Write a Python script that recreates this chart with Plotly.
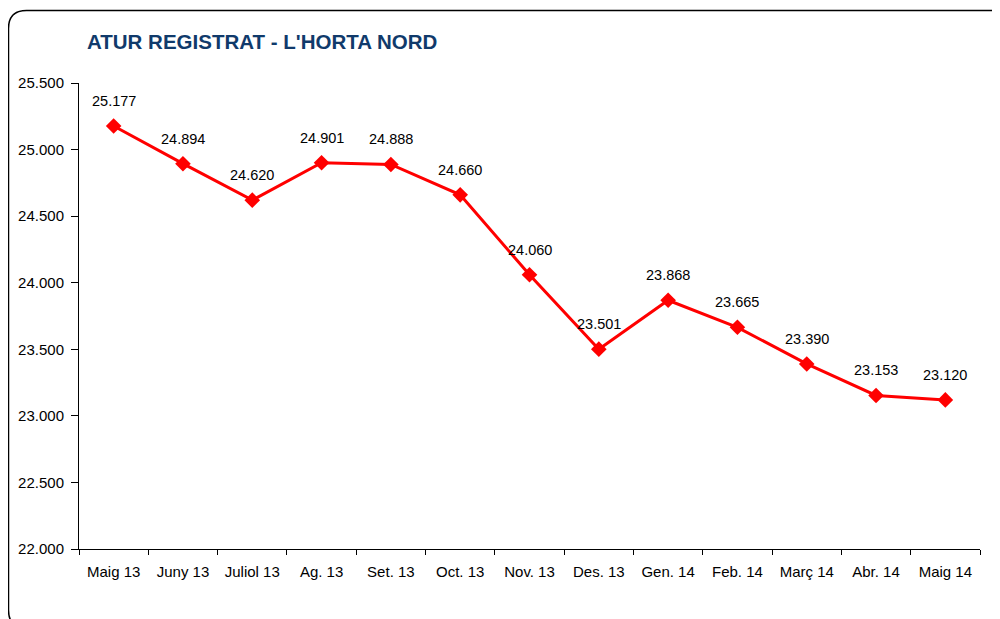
import plotly.graph_objects as go

categories = ["Maig 13", "Juny 13", "Juliol 13", "Ag. 13", "Set. 13", "Oct. 13", "Nov. 13",
              "Des. 13", "Gen. 14", "Feb. 14", "Març 14", "Abr. 14", "Maig 14"]
values = [25177, 24894, 24620, 24901, 24888, 24660, 24060, 23501, 23868, 23665, 23390, 23153, 23120]
y_ticks = [22000, 22500, 23000, 23500, 24000, 24500, 25000, 25500]

# page body has an 8px margin, so figure coords = screen coords - 8
OFF = 8
W, H = 1000 - OFF, 619 - OFF
L, T = 79 - OFF, 83 - OFF
pw, ph = 901, 466
R, B = W - L - pw, H - T - ph

def px(xs):
    return (xs - OFF - L) / pw

def py(ys):
    return 1 - (ys - OFF - T) / ph

fig = go.Figure()
fig.add_trace(go.Scatter(
    x=categories, y=values, mode="lines+markers",
    line=dict(color="#FF0000", width=3),
    marker=dict(symbol="diamond", size=12, color="#FF0000"),
    hoverinfo="skip", showlegend=False,
))

for c, v in zip(categories, values):
    fig.add_annotation(x=c, y=v, text=f"{v:,}".replace(",", "."), showarrow=False,
                       yshift=25, font=dict(family="Liberation Sans, Arial", size=14.5, color="#000000"))

# rounded frame (screen coordinates)
x0, y0, x1, y1, r = 8.5, 10.5, 1015, 628, 18
path = (f"M {px(x0)},{py(y0 + r)} Q {px(x0)},{py(y0)} {px(x0 + r)},{py(y0)} "
        f"L {px(x1)},{py(y0)} L {px(x1)},{py(y1)} L {px(x0 + r)},{py(y1)} "
        f"Q {px(x0)},{py(y1)} {px(x0)},{py(y1 - r)} Z")
fig.add_shape(type="path", path=path, xref="paper", yref="paper",
              line=dict(color="#000000", width=1.5), layer="below")

fig.update_layout(
    width=W, height=H,
    margin=dict(l=L, r=R, t=T, b=B, autoexpand=False),
    paper_bgcolor="white", plot_bgcolor="white",
    separators=",.",
    font=dict(family="Liberation Sans, Arial", size=15, color="#000000"),
    title=dict(text="<b>ATUR REGISTRAT - L'HORTA NORD</b>", xref="container",
               x=(87 - OFF) / W, xanchor="left",
               y=1 - (42 - OFF) / H, yanchor="middle",
               font=dict(family="Liberation Sans, Arial", size=20.5, color="#103A6B")),
    xaxis=dict(type="category", range=[-0.5, len(categories) - 0.5], showgrid=False,
               showline=True, linecolor="#000000", linewidth=1,
               ticks="outside", tickson="boundaries", ticklen=5, tickcolor="#000000",
               ticklabelstandoff=9,
               tickfont=dict(size=15), fixedrange=True),
    yaxis=dict(range=[22000, 25500], tickvals=y_ticks, tickformat=",d", showgrid=False,
               zeroline=False, showline=True, linecolor="#000000", linewidth=1,
               ticks="outside", ticklen=7, tickcolor="#000000",
               ticklabelstandoff=4,
               tickfont=dict(size=15), fixedrange=True),
)

fig.write_html("out.html")
